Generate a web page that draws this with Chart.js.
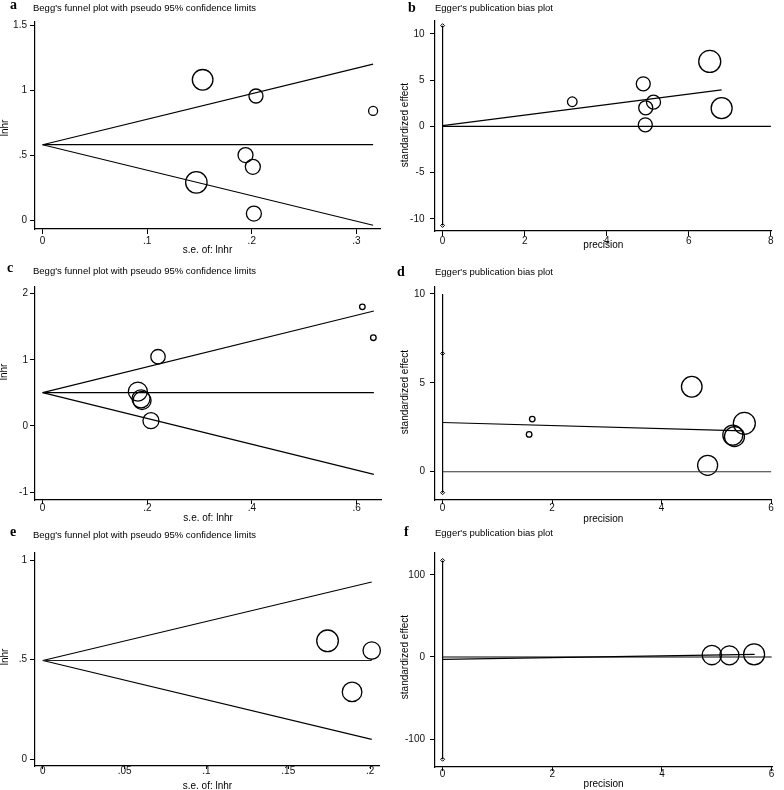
<!DOCTYPE html>
<html>
<head>
<meta charset="utf-8">
<script src="https://cdn.jsdelivr.net/npm/chart.js@4.4.1/dist/chart.umd.min.js"></script>
<style>
html, body { margin: 0; padding: 0; background: #fff; }
#wrap { position: relative; width: 784px; height: 790px; overflow: hidden; background: #fff; }
canvas { position: absolute; }
.lt { position: absolute; font: bold 14px/1 "Liberation Serif", "Times New Roman", serif; color: #000; }
.tt { position: absolute; font: 9.5px/1 "Liberation Sans", Arial, sans-serif; color: #000; white-space: nowrap; }
.yt { position: absolute; font: 10px/1 "Liberation Sans", Arial, sans-serif; color: #000; white-space: nowrap;
      transform: translate(-50%, -50%) rotate(-90deg); }
</style>
</head>
<body>
<div id="wrap">
  <canvas id="pa" width="392" height="260" style="left:0;top:0"></canvas>
  <canvas id="pb" width="392" height="260" style="left:392px;top:0"></canvas>
  <canvas id="pc" width="392" height="265" style="left:0;top:260px"></canvas>
  <canvas id="pd" width="392" height="265" style="left:392px;top:260px"></canvas>
  <canvas id="pe" width="392" height="265" style="left:0;top:525px"></canvas>
  <canvas id="pf" width="392" height="265" style="left:392px;top:525px"></canvas>

  <div class="lt" style="left:10px;top:-2px">a</div>
  <div class="tt" style="left:33px;top:3px">Begg's funnel plot with pseudo 95% confidence limits</div>
  <div class="yt" style="left:5px;top:128px">lnhr</div>

  <div class="lt" style="left:408px;top:1px">b</div>
  <div class="tt" style="left:435px;top:3px">Egger's publication bias plot</div>
  <div class="yt" style="left:405px;top:125px">standardized effect</div>

  <div class="lt" style="left:7px;top:261px">c</div>
  <div class="tt" style="left:33px;top:266px">Begg's funnel plot with pseudo 95% confidence limits</div>
  <div class="yt" style="left:4px;top:372px">lnhr</div>

  <div class="lt" style="left:397px;top:265px">d</div>
  <div class="tt" style="left:435px;top:267px">Egger's publication bias plot</div>
  <div class="yt" style="left:405px;top:392px">standardized effect</div>

  <div class="lt" style="left:10px;top:525px">e</div>
  <div class="tt" style="left:33px;top:530px">Begg's funnel plot with pseudo 95% confidence limits</div>
  <div class="yt" style="left:5px;top:657px">lnhr</div>

  <div class="lt" style="left:404px;top:525px">f</div>
  <div class="tt" style="left:435px;top:528px">Egger's publication bias plot</div>
  <div class="yt" style="left:405px;top:657px">standardized effect</div>
</div>

<script>
const FONT = "'Liberation Sans', Arial, sans-serif";

// a: Begg's funnel plot
const aSe = [0.153, 0.204, 0.316, 0.194, 0.201, 0.147, 0.202];
const aLnhr = [1.08, 0.955, 0.84, 0.50, 0.41, 0.29, 0.05];
const aSize = [10.3, 7, 4.5, 7.5, 7.5, 10.7, 7.5];
const aFunnelSe = [0, 0.316];
const aFunnelMid = [0.58, 0.58];
const aFunnelUp = [0.58, 1.20];
const aFunnelLow = [0.58, -0.04];
const aXTicks = [0, 0.1, 0.2, 0.3];
const aXLabels = ['0', '.1', '.2', '.3'];
const aYTicks = [0, 0.5, 1, 1.5];
const aYLabels = ['0', '.5', '1', '1.5'];

// b: Egger's plot
const bPrecision = [3.16, 4.89, 4.95, 5.14, 4.94, 6.51, 6.80];
const bEffect = [2.67, 4.61, 2.02, 2.63, 0.18, 7.03, 1.98];
const bSize = [4.8, 7, 7, 7, 7, 11, 10.5];
const bCi = [10.9, -10.7];
const bFitX = [0, 6.8];
const bFitY = [0.1, 3.95];
const bZeroX = [0, 8];
const bXTicks = [0, 2, 4, 6, 8];
const bYTicks = [-10, -5, 0, 5, 10];

// c: Begg's funnel plot
const cSe = [0.611, 0.632, 0.2205, 0.182, 0.188, 0.190, 0.207];
const cLnhr = [1.80, 1.334, 1.047, 0.52, 0.41, 0.385, 0.08];
const cSize = [2.8, 2.8, 7.2, 9.5, 9, 9, 8];
const cFunnelSe = [0, 0.633];
const cFunnelMid = [0.505, 0.505];
const cFunnelUp = [0.505, 1.737];
const cFunnelLow = [0.505, -0.73];
const cXTicks = [0, 0.2, 0.4, 0.6];
const cXLabels = ['0', '.2', '.4', '.6'];
const cYTicks = [-1, 0, 1, 2];

// d: Egger's plot
const dPrecision = [1.637, 1.58, 4.55, 5.51, 5.30, 5.33, 4.84];
const dEffect = [2.96, 2.10, 4.78, 2.72, 2.06, 1.98, 0.36];
const dSize = [2.8, 2.8, 10.3, 11, 10, 10, 10];
const dCi = [6.65, -1.18];
const dCiTop = 10;
const dFitX = [0, 5.49];
const dFitY = [2.77, 2.30];
const dZeroX = [0, 6];
const dXTicks = [0, 2, 4, 6];
const dYTicks = [0, 5, 10];

// e: Begg's funnel plot
const eSe = [0.174, 0.201, 0.189];
const eLnhr = [0.595, 0.546, 0.338];
const eSize = [10.8, 8.7, 9.8];
const eFunnelSe = [0, 0.201];
const eFunnelMid = [0.496, 0.496];
const eFunnelUp = [0.496, 0.891];
const eFunnelLow = [0.496, 0.099];
const eXTicks = [0, 0.05, 0.1, 0.15, 0.2];
const eXLabels = ['0', '.05', '.1', '.15', '.2'];
const eYTicks = [0, 0.5, 1];
const eYLabels = ['0', '.5', '1'];

// f: Egger's plot
const fPrecision = [4.91, 5.23, 5.68];
const fEffect = [2.4, 2.0, 3.3];
const fSize = [9.7, 9.5, 10.5];
const fCi = [117.4, -124.4];
const fFitX = [0, 5.69];
const fFitY = [-2.8, 3.3];
const fZeroX = [0, 6];
const fXTicks = [0, 2, 4, 6];
const fYTicks = [-100, 0, 100];

function pts(xs, ys) {
    return xs.map((x, i) => ({ x: x, y: ys[i] }));
}

function lineSet(xs, ys, color) {
    return {
        type: 'scatter', data: pts(xs, ys), showLine: true,
        borderColor: color || '#000', borderWidth: 1.2, pointRadius: 0, clip: false,
    };
}

function circleSet(xs, ys, rs) {
    return {
        type: 'bubble', data: xs.map((x, i) => ({ x: x, y: ys[i], r: rs[i] })),
        backgroundColor: 'rgba(0,0,0,0)', borderColor: '#000', borderWidth: 1.3, clip: false,
    };
}

function markSet(ys) {
    return {
        type: 'scatter', data: ys.map(y => ({ x: 0, y: y })), showLine: false,
        pointStyle: 'rectRot', pointRadius: 2, borderWidth: 1,
        borderColor: '#000', backgroundColor: '#fff', clip: false,
    };
}

function makePanel(id, p) {
    new Chart(document.getElementById(id), {
        type: 'scatter',
        data: { datasets: p.datasets },
        options: {
            responsive: false,
            animation: false,
            events: [],
            layout: { padding: { top: p.top, right: p.right, left: 0, bottom: 0 } },
            plugins: { legend: { display: false }, tooltip: { enabled: false } },
            scales: {
                x: {
                    type: 'linear', min: p.xMin, max: p.xMax,
                    afterBuildTicks: s => { s.ticks = p.xTicks.map(v => ({ value: v })); },
                    afterFit: s => { s.height = p.xHeight; },
                    ticks: {
                        callback: (v, i) => p.xLabels[i], color: '#111',
                        font: { family: FONT, size: 10 }, padding: p.xPad,
                        maxRotation: 0, autoSkip: false,
                    },
                    grid: { drawOnChartArea: false, drawTicks: true, tickLength: p.xTick, color: '#000' },
                    border: { display: true, color: '#000', width: 1.2 },
                    title: {
                        display: true, text: p.xTitle, color: '#000',
                        font: { family: FONT, size: 10 },
                        padding: { top: 0, bottom: p.xTitlePad },
                    },
                },
                y: {
                    type: 'linear', min: p.yMin, max: p.yMax,
                    afterBuildTicks: s => { s.ticks = p.yTicks.map(v => ({ value: v })); },
                    afterFit: s => { s.width = p.yWidth; },
                    ticks: {
                        callback: (v, i) => p.yLabels[i], color: '#111',
                        font: { family: FONT, size: 10 }, padding: p.yPad, autoSkip: false,
                    },
                    grid: { drawOnChartArea: false, drawTicks: true, tickLength: 5, color: '#000' },
                    border: { display: true, color: '#000', width: 1.2 },
                },
            },
        },
    });
}

makePanel('pa', {
    datasets: [
        lineSet(aFunnelSe, aFunnelMid),
        lineSet(aFunnelSe, aFunnelUp),
        lineSet(aFunnelSe, aFunnelLow),
        circleSet(aSe, aLnhr, aSize),
    ],
    top: 22, right: 9, xHeight: 31, yWidth: 35,
    xMin: -0.0073, xMax: 0.3226, yMin: -0.069, yMax: 1.525,
    xTicks: aXTicks, xLabels: aXLabels, yTicks: aYTicks, yLabels: aYLabels,
    xTick: 5, xPad: 1, yPad: 3, xTitle: 's.e. of: lnhr', xTitlePad: 4,
});

makePanel('pb', {
    datasets: [
        lineSet([0, 0], bCi),
        markSet(bCi),
        lineSet(bZeroX, [0, 0]),
        lineSet(bFitX, bFitY),
        circleSet(bPrecision, bEffect, bSize),
    ],
    top: 21, right: 8, xHeight: 29, yWidth: 43,
    xMin: -0.185, xMax: 8.02, yMin: -11.3, yMax: 11.4,
    xTicks: bXTicks, xLabels: bXTicks.map(String), yTicks: bYTicks, yLabels: bYTicks.map(String),
    xTick: 5, xPad: -1, yPad: 5.5, xTitle: 'precision', xTitlePad: 8.5,
});

makePanel('pc', {
    datasets: [
        lineSet(cFunnelSe, cFunnelMid),
        lineSet(cFunnelSe, cFunnelUp),
        lineSet(cFunnelSe, cFunnelLow),
        circleSet(cSe, cLnhr, cSize),
    ],
    top: 27, right: 9, xHeight: 25, yWidth: 35,
    xMin: -0.0146, xMax: 0.647, yMin: -1.118, yMax: 2.10,
    xTicks: cXTicks, xLabels: cXLabels, yTicks: cYTicks, yLabels: cYTicks.map(String),
    xTick: 4, xPad: -2, yPad: 2, xTitle: 's.e. of: lnhr', xTitlePad: 0.3,
});

makePanel('pd', {
    datasets: [
        lineSet([0, 0], [dCiTop, dCi[1]]),
        markSet(dCi),
        lineSet(dZeroX, [0, 0], '#333'),
        lineSet(dFitX, dFitY),
        circleSet(dPrecision, dEffect, dSize),
    ],
    top: 27, right: 8, xHeight: 25, yWidth: 43,
    xMin: -0.139, xMax: 6.01, yMin: -1.59, yMax: 10.39,
    xTicks: dXTicks, xLabels: dXTicks.map(String), yTicks: dYTicks, yLabels: dYTicks.map(String),
    xTick: 4, xPad: -1.7, yPad: 5, xTitle: 'precision', xTitlePad: -0.7,
});

makePanel('pe', {
    datasets: [
        lineSet(eFunnelSe, eFunnelMid, '#222'),
        lineSet(eFunnelSe, eFunnelUp),
        lineSet(eFunnelSe, eFunnelLow),
        circleSet(eSe, eLnhr, eSize),
    ],
    top: 28, right: 9, xHeight: 24, yWidth: 35,
    xMin: -0.0048, xMax: 0.206, yMin: -0.035, yMax: 1.037,
    xTicks: eXTicks, xLabels: eXLabels, yTicks: eYTicks, yLabels: eYLabels,
    xTick: 3, xPad: -3.9, yPad: 3, xTitle: 's.e. of: lnhr', xTitlePad: -2.4,
});

makePanel('pf', {
    datasets: [
        lineSet([0, 0], fCi),
        markSet(fCi),
        lineSet(fZeroX, [0, 0]),
        lineSet(fFitX, fFitY),
        circleSet(fPrecision, fEffect, fSize),
    ],
    top: 28, right: 8, xHeight: 23, yWidth: 43,
    xMin: -0.139, xMax: 6.01, yMin: -133.8, yMax: 126.5,
    xTicks: fXTicks, xLabels: fXTicks.map(String), yTicks: fYTicks, yLabels: fYTicks.map(String),
    xTick: 4, xPad: -2.4, yPad: 5, xTitle: 'precision', xTitlePad: -0.7,
});
</script>
</body>
</html>
